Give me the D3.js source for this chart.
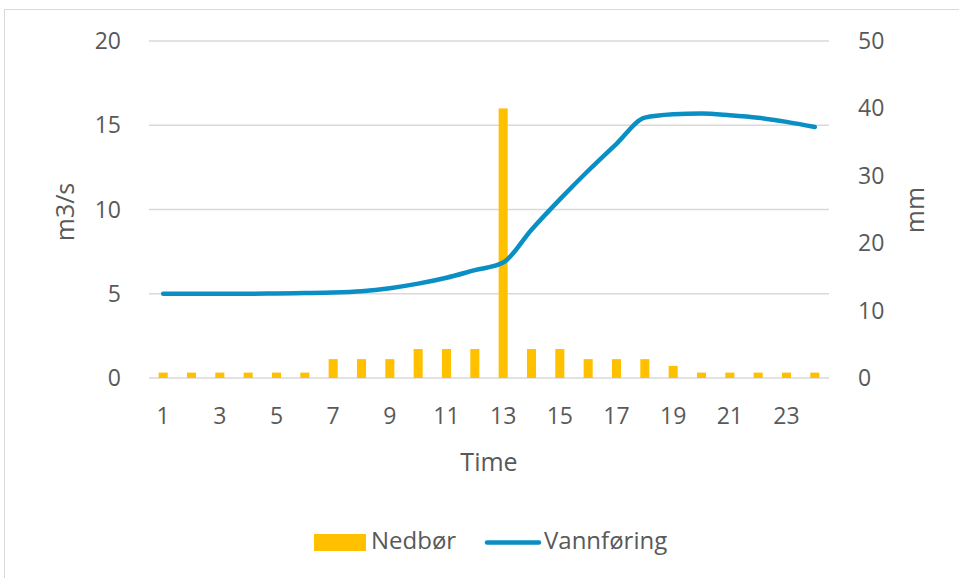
<!DOCTYPE html>
<html>
<head>
<meta charset="utf-8">
<script src="https://cdn.jsdelivr.net/npm/d3@7"></script>
<style>
  body { margin: 0; background: #fff; }
  text { font-family: "Open Sans", "Noto Sans", sans-serif; fill: #595959; }
  .grid line { stroke: #D9D9D9; stroke-width: 1.3; }
</style>
</head>
<body>
<div id="vis"></div>
<script>
var hours = d3.range(1, 25);
var nedbor = [0.8, 0.8, 0.8, 0.8, 0.8, 0.8, 2.8, 2.8, 2.8, 4.3, 4.3, 4.3,
              40, 4.3, 4.3, 2.8, 2.8, 2.8, 1.8, 0.8, 0.8, 0.8, 0.8, 0.8];
var vannforing = [5.0, 5.0, 5.0, 5.0, 5.02, 5.04, 5.07, 5.15, 5.33, 5.6, 5.95, 6.4,
                  6.85, 8.8, 10.6, 12.3, 13.9, 15.45, 15.65, 15.7, 15.6, 15.45, 15.2, 14.9];
var leftTicks = [0, 5, 10, 15, 20];
var rightTicks = [0, 10, 20, 30, 40, 50];
var xTickLabels = [1, 3, 5, 7, 9, 11, 13, 15, 17, 19, 21, 23];

var width = 959, height = 578;
var margin = {top: 41, right: 130, bottom: 200, left: 149};
var plotW = width - margin.left - margin.right;
var plotH = height - margin.top - margin.bottom;

var svg = d3.select("#vis").append("svg")
  .attr("width", width)
  .attr("height", height);

// outer chart frame
svg.append("rect")
  .attr("x", 4.5).attr("y", 9.5)
  .attr("width", 970).attr("height", 590)
  .attr("fill", "none")
  .attr("stroke", "#D9D9D9");

var g = svg.append("g")
  .attr("transform", "translate(" + margin.left + "," + margin.top + ")");

var x = d3.scaleBand().domain(hours).range([0, plotW])
  .paddingInner(0.68).paddingOuter(0.34);
var yL = d3.scaleLinear().domain([0, 20]).range([plotH, 0]);
var yR = d3.scaleLinear().domain([0, 50]).range([plotH, 0]);
var cx = function(d) { return x(d) + x.bandwidth() / 2; };

// gridlines
g.append("g").attr("class", "grid")
  .selectAll("line").data(leftTicks).enter()
  .append("line")
  .attr("x1", 0).attr("x2", plotW)
  .attr("y1", function(d) { return yL(d); })
  .attr("y2", function(d) { return yL(d); });

// left axis labels
g.append("g").selectAll("text").data(leftTicks).enter()
  .append("text")
  .attr("x", -28)
  .attr("y", function(d) { return yL(d); })
  .attr("dy", "0.35em")
  .attr("text-anchor", "end")
  .style("font-size", "23px")
  .text(function(d) { return d; });

// right axis labels
g.append("g").selectAll("text").data(rightTicks).enter()
  .append("text")
  .attr("x", plotW + 29)
  .attr("y", function(d) { return yR(d); })
  .attr("dy", "0.35em")
  .attr("text-anchor", "start")
  .style("font-size", "23px")
  .text(function(d) { return d; });

// x labels
g.append("g").selectAll("text").data(xTickLabels).enter()
  .append("text")
  .attr("x", function(d) { return cx(d); })
  .attr("y", plotH + 46)
  .attr("text-anchor", "middle")
  .style("font-size", "23px")
  .text(function(d) { return d; });

// bars
g.append("g").selectAll("rect").data(hours).enter()
  .append("rect")
  .attr("x", function(d) { return x(d); })
  .attr("y", function(d, i) { return yR(nedbor[i]); })
  .attr("width", x.bandwidth())
  .attr("height", function(d, i) { return plotH - yR(nedbor[i]); })
  .attr("fill", "#FFC000");

// line
var line = d3.line()
  .x(function(d) { return cx(d); })
  .y(function(d, i) { return yL(vannforing[i]); })
  .curve(d3.curveMonotoneX);

g.append("path")
  .datum(hours)
  .attr("d", line)
  .attr("fill", "none")
  .attr("stroke", "#0A8FC4")
  .attr("stroke-width", 4.5)
  .attr("stroke-linecap", "round")
  .attr("stroke-linejoin", "round");

// axis titles
svg.append("text")
  .attr("transform", "translate(74,212) rotate(-90)")
  .attr("text-anchor", "middle")
  .style("font-size", "25px")
  .text("m3/s");

svg.append("text")
  .attr("transform", "translate(924,210) rotate(-90)")
  .attr("text-anchor", "middle")
  .style("font-size", "25px")
  .text("mm");

svg.append("text")
  .attr("x", 489).attr("y", 471)
  .attr("text-anchor", "middle")
  .style("font-size", "25px")
  .text("Time");

// legend
var legend = svg.append("g");
legend.append("rect")
  .attr("x", 314).attr("y", 534)
  .attr("width", 52).attr("height", 17)
  .attr("fill", "#FFC000");
legend.append("text")
  .attr("x", 371).attr("y", 549)
  .style("font-size", "24px")
  .text("Nedbør");
legend.append("line")
  .attr("x1", 487).attr("x2", 539)
  .attr("y1", 542.5).attr("y2", 542.5)
  .attr("stroke", "#0A8FC4")
  .attr("stroke-width", 4.5)
  .attr("stroke-linecap", "round");
legend.append("text")
  .attr("x", 544).attr("y", 549)
  .style("font-size", "24px")
  .text("Vannføring");
</script>
</body>
</html>
